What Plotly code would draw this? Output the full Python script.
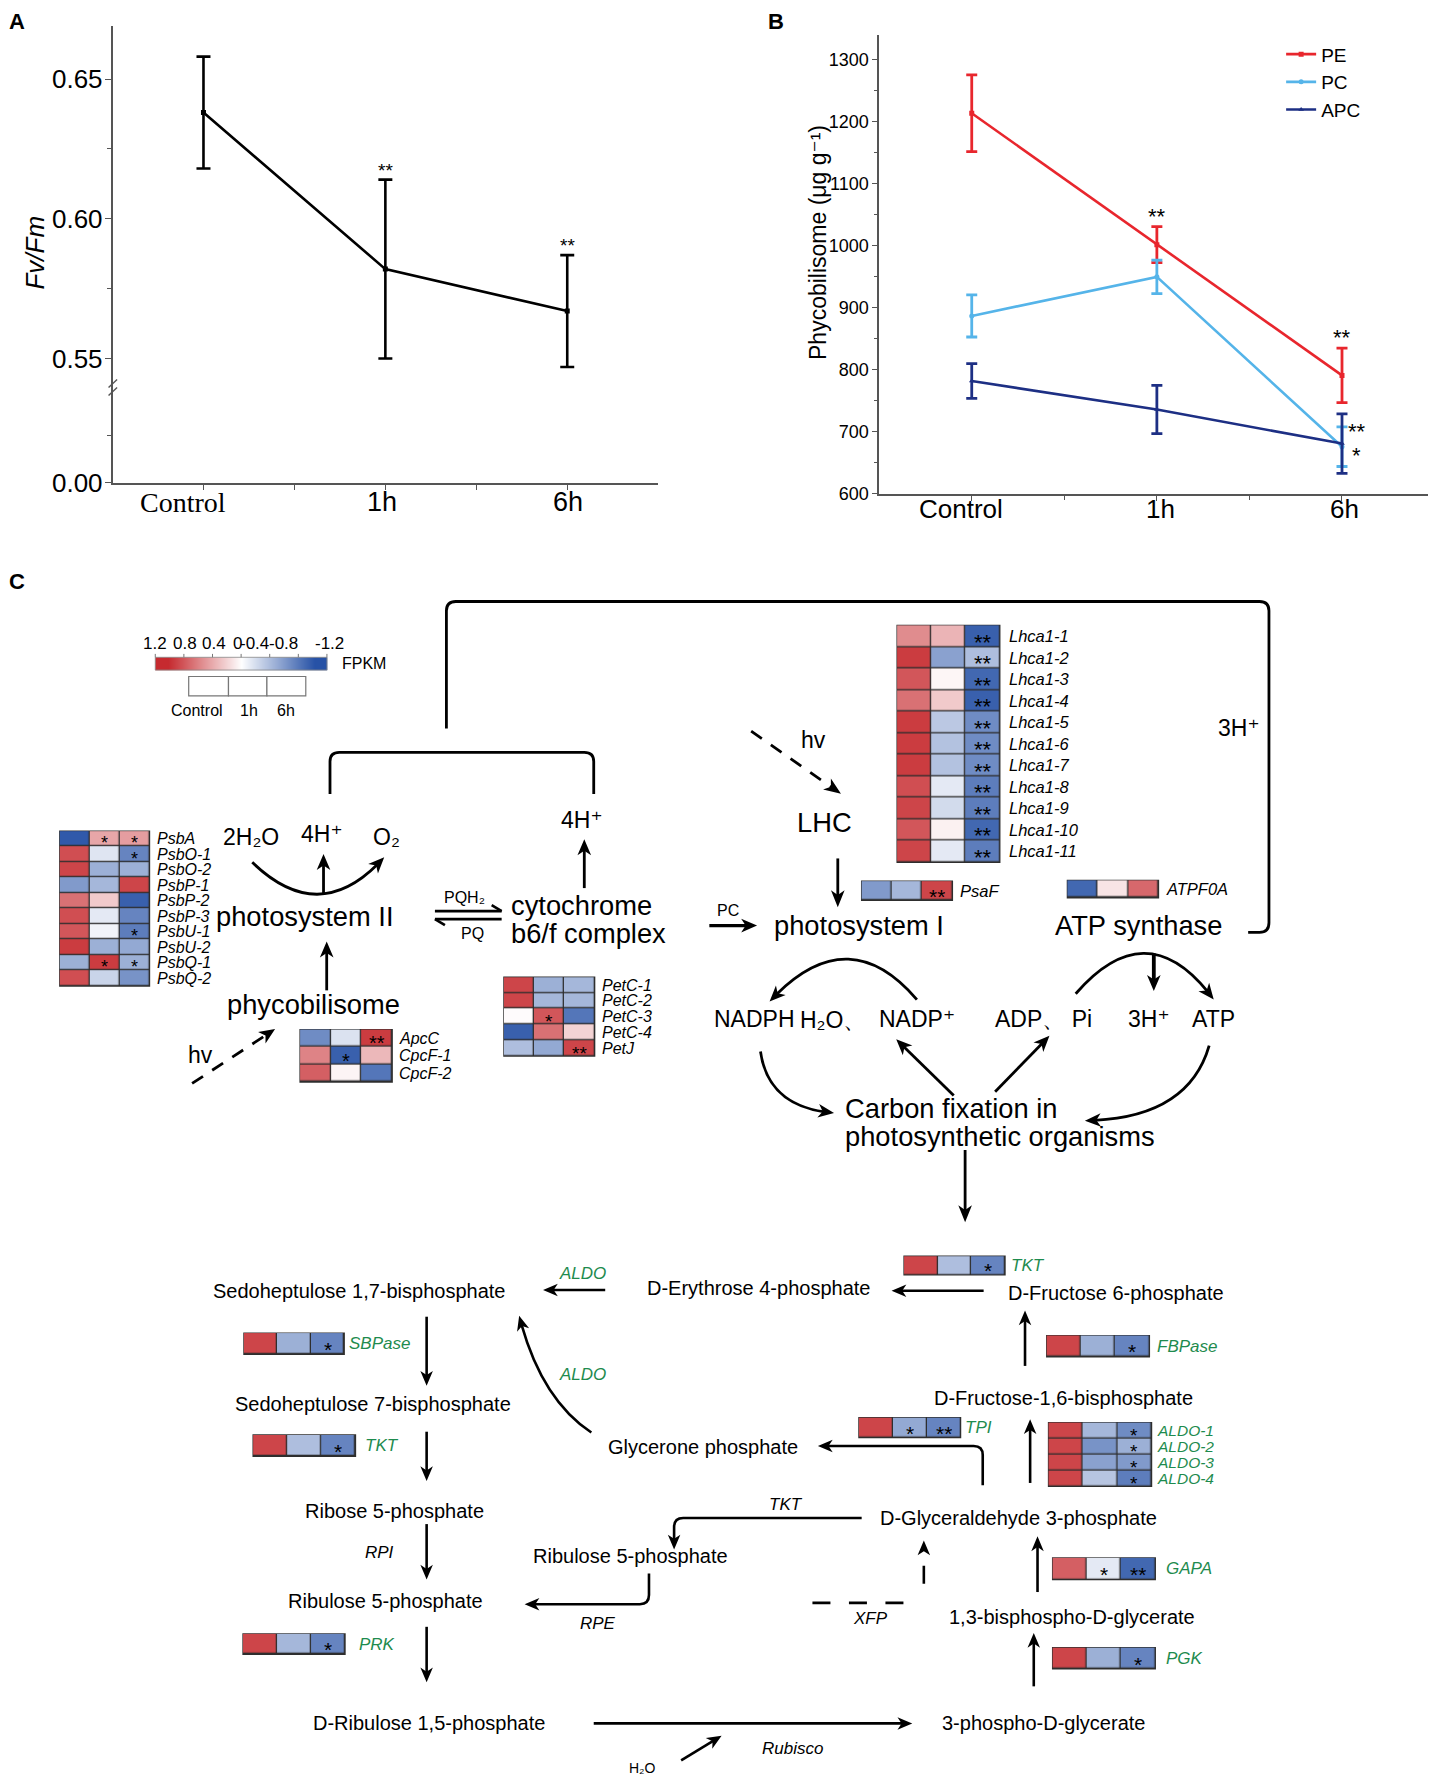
import math
import plotly.graph_objects as go

# ====================== DATA ======================
time_points = ["Control", "1h", "6h"]

# Panel A: Fv/Fm
fvfm_mean = [0.638, 0.582, 0.567]
fvfm_err = [0.020, 0.032, 0.020]
fvfm_sig = ["", "**", "**"]

# Panel B: phycobilisome content (ug g-1)
pbs_names = ["PE", "PC", "APC"]
pe_mean = [1214, 1002, 791]
pe_err = [62, 29, 44]
pc_mean = [887, 950, 676]
pc_err = [34, 27, 32]
apc_mean = [782, 736, 681]
apc_err = [28, 39, 48]
pe_sig = ["", "**", "**"]
pc_sig = ["", "", "**"]
apc_sig = ["", "", "*"]

# Panel C: FPKM colour key
fpkm_ticks = [1.2, 0.8, 0.4, 0, -0.4, -0.8, -1.2]
fpkm_ticktext = ["1.2", "0.8", "0.4", "0", "-0.4", "-0.8", "-1.2"]

# Panel C heatmaps (scaled FPKM, columns = Control, 1h, 6h)
psii_genes = ["PsbA", "PsbO-1", "PsbO-2", "PsbP-1", "PsbP-2", "PsbP-3", "PsbU-1", "PsbU-2", "PsbQ-1", "PsbQ-2"]
psii_z = [[-1.15, 0.50, 0.55], [1.00, -0.18, -0.85], [1.05, -0.55, -0.55], [-0.70, -0.50, 1.05],
          [0.80, 0.30, -1.10], [1.00, -0.15, -0.85], [0.95, -0.08, -0.90], [1.10, -0.55, -0.60],
          [-0.55, 1.10, -0.55], [1.00, -0.30, -0.75]]
psii_sig = [["", "*", "*"], ["", "", "*"], ["", "", ""], ["", "", ""], ["", "", ""],
            ["", "", ""], ["", "", "*"], ["", "", ""], ["", "*", "*"], ["", "", ""]]

pbs_genes = ["ApcC", "CpcF-1", "CpcF-2"]
pbs_z = [[-0.80, -0.20, 1.10], [0.70, -1.10, 0.40], [0.90, 0.06, -0.95]]
pbs_sig = [["", "", "**"], ["", "*", ""], ["", "", ""]]

cyt_genes = ["PetC-1", "PetC-2", "PetC-3", "PetC-4", "PetJ"]
cyt_z = [[1.05, -0.55, -0.50], [1.05, -0.50, -0.50], [0.02, 0.95, -0.95], [-1.10, 0.80, 0.25], [-0.45, -0.60, 1.05]]
cyt_sig = [["", "", ""], ["", "", ""], ["", "*", ""], ["", "", ""], ["", "", "**"]]

lhca_genes = ["Lhca1-1", "Lhca1-2", "Lhca1-3", "Lhca1-4", "Lhca1-5", "Lhca1-6", "Lhca1-7",
              "Lhca1-8", "Lhca1-9", "Lhca1-10", "Lhca1-11"]
lhca_z = [[0.65, 0.42, -1.10], [1.10, -0.65, -0.45], [0.95, 0.05, -1.05], [0.80, 0.30, -1.10],
          [1.10, -0.38, -0.80], [1.10, -0.42, -0.80], [1.10, -0.42, -0.80], [1.00, -0.15, -0.90],
          [1.05, -0.25, -0.90], [0.95, 0.08, -1.05], [1.05, -0.15, -0.90]]
lhca_sig = [["", "", "**"] for _ in lhca_genes]

psaf_genes = ["PsaF"]
psaf_z = [[-0.70, -0.50, 1.05]]
psaf_sig = [["", "", "**"]]

atp_genes = ["ATPF0A"]
atp_z = [[-1.05, 0.15, 0.85]]
atp_sig = [["", "", ""]]

tkt1_genes = ["TKT"]
tkt1_z = [[1.05, -0.45, -0.85]]
tkt1_sig = [["", "", "*"]]

fbp_genes = ["FBPase"]
fbp_z = [[1.05, -0.55, -0.85]]
fbp_sig = [["", "", "*"]]

tpi_genes = ["TPI"]
tpi_z = [[1.05, -0.60, -0.85]]
tpi_sig = [["", "*", "**"]]

aldo_genes = ["ALDO-1", "ALDO-2", "ALDO-3", "ALDO-4"]
aldo_z = [[1.05, -0.50, -0.80], [1.05, -0.75, -0.55], [1.05, -0.65, -0.70], [1.05, -0.40, -0.90]]
aldo_sig = [["", "", "*"] for _ in aldo_genes]

gapa_genes = ["GAPA"]
gapa_z = [[0.90, -0.15, -1.05]]
gapa_sig = [["", "*", "**"]]

pgk_genes = ["PGK"]
pgk_z = [[1.05, -0.55, -0.85]]
pgk_sig = [["", "", "*"]]

sbp_genes = ["SBPase"]
sbp_z = [[1.05, -0.55, -0.85]]
sbp_sig = [["", "", "*"]]

tkt2_genes = ["TKT"]
tkt2_z = [[1.05, -0.45, -0.85]]
tkt2_sig = [["", "", "*"]]

prk_genes = ["PRK"]
prk_z = [[1.05, -0.50, -0.85]]
prk_sig = [["", "", "*"]]

# ====================== STYLE / LAYOUT ======================
OFF = 8                        # page body margin of the browser page
YS = 1.0076                    # vertical compensation of the captured page
SX, SY = 1265.0, 1566.0        # diagram coordinate frame (reference units)
KX, KY = 1438 / SX, 1781 / SY * YS
FW, FH = 1438 - 2 * OFF, 1786
SANS = "Liberation Sans, Arial, DejaVu Sans, sans-serif"
NARROW = "Liberation Sans Narrow, Arial Narrow, Liberation Sans, sans-serif"
SERIF = "Liberation Serif, Times New Roman, serif"
GREEN = "#1E8B4E"
AX = "#555555"
RED, BLUE = "#C62A2F", "#2752A6"


def px(X):
    return (X * KX - OFF) / FW


def py(Y):
    return 1 - (Y * KY - OFF) / FH


shapes, annotations = [], []
DX, DY = "x3", "y4"

fig = go.Figure()


def txt(x, y, s, size=20, color="black", xanchor="center", family=SANS, angle=0, height=None):
    a = dict(xref=DX, yref=DY, x=x, y=y, text=s, showarrow=False,
             xanchor=xanchor, yanchor="middle", textangle=angle,
             font=dict(size=size, color=color, family=family))
    if height:
        a.update(height=height, borderpad=0, borderwidth=0, valign="middle")
    annotations.append(a)


def seg(p0, p1, w=2.6, dash=None, color="black"):
    shapes.append(dict(type="line", xref=DX, yref=DY, x0=p0[0], y0=p0[1], x1=p1[0], y1=p1[1],
                       line=dict(color=color, width=w, dash=dash)))


def pth(d, w=2.6, dash=None):
    shapes.append(dict(type="path", xref=DX, yref=DY, path=d,
                       line=dict(color="black", width=w, dash=dash)))


def _unit(a, b):
    dx, dy = b[0] - a[0], b[1] - a[1]
    n = math.hypot(dx, dy)
    return dx / n, dy / n


def head(tip, frm, L=13, Wd=11):
    ux, uy = _unit(frm, tip)
    bx, by = tip[0] - ux * L, tip[1] - uy * L
    nx, ny = -uy, ux
    p1 = (bx + nx * Wd / 2, by + ny * Wd / 2)
    p3 = (bx - nx * Wd / 2, by - ny * Wd / 2)
    p2 = (tip[0] - ux * L * 0.72, tip[1] - uy * L * 0.72)
    d = "M%.2f,%.2f L%.2f,%.2f L%.2f,%.2f L%.2f,%.2f Z" % (tip[0], tip[1], p1[0], p1[1], p2[0], p2[1], p3[0], p3[1])
    shapes.append(dict(type="path", xref=DX, yref=DY, path=d, fillcolor="black",
                       line=dict(width=0)))


def arrow(p0, p1, w=2.6, L=13, Wd=11, dash=None):
    ux, uy = _unit(p0, p1)
    e = (p1[0] - ux * L * 0.6, p1[1] - uy * L * 0.6)
    seg(p0, e, w, dash)
    head(p1, p0, L, Wd)


def qcurve(p0, c, p2, w=2.6, L=13, Wd=11):
    def B(t):
        return ((1 - t) ** 2 * p0[0] + 2 * (1 - t) * t * c[0] + t * t * p2[0],
                (1 - t) ** 2 * p0[1] + 2 * (1 - t) * t * c[1] + t * t * p2[1])

    def back(dist):
        t = 1.0
        while t > 0:
            q = B(t)
            if math.hypot(q[0] - p2[0], q[1] - p2[1]) >= dist:
                return t
            t -= 0.002
        return 0.0

    t0 = back(L * 0.6)
    frm = B(back(L))
    c1 = (p0[0] + (c[0] - p0[0]) * t0, p0[1] + (c[1] - p0[1]) * t0)
    e = B(t0)
    pth("M%.2f,%.2f Q%.2f,%.2f %.2f,%.2f" % (p0[0], p0[1], c1[0], c1[1], e[0], e[1]), w)
    head(p2, frm, L, Wd)


# ---------------- Panel A ----------------
xa = list(range(len(time_points)))
fig.add_trace(go.Scatter(x=xa, y=fvfm_mean, mode="lines+markers",
                         line=dict(color="black", width=2.6),
                         marker=dict(symbol="square", size=5, color="black"),
                         error_y=dict(type="data", array=fvfm_err, color="black", thickness=2.6, width=7),
                         xaxis="x", yaxis="y", showlegend=False, hoverinfo="skip"))
fig.add_trace(go.Scatter(x=[0], y=[None], mode="lines", xaxis="x", yaxis="y2",
                         showlegend=False, hoverinfo="skip"))
for i, s in enumerate(fvfm_sig):
    if s:
        annotations.append(dict(xref="x", yref="y", x=xa[i], y=fvfm_mean[i] + fvfm_err[i], text=s,
                                showarrow=False, yanchor="bottom", yshift=-3,
                                font=dict(size=19, color="black", family=SANS)))
# x tick labels A
a_lab_x = [161, 336, 500]
for i, t in enumerate(time_points):
    fam = SERIF if t == "Control" else SANS
    annotations.append(dict(xref="paper", yref="paper", x=px(a_lab_x[i]), y=py(442), text=t,
                            showarrow=False, xanchor="center", yanchor="middle",
                            font=dict(size=28 if t == "Control" else 27, color="black", family=fam)))
annotations.append(dict(xref="paper", yref="paper", x=px(31), y=py(222), text="<i>Fv/Fm</i>",
                        showarrow=False, textangle=-90, xanchor="center", yanchor="middle",
                        font=dict(size=26, color="black", family=SANS)))
# axis break marks
for yy in (337.5, 344.5):
    seg((95.5, yy + 3.5), (103, yy - 3.5), w=1.4, color=AX)

# ---------------- Panel B ----------------
b_series = [(pbs_names[0], pe_mean, pe_err, "#E8262D", "square"),
            (pbs_names[1], pc_mean, pc_err, "#55B4E9", "circle"),
            (pbs_names[2], apc_mean, apc_err, "#1D2F84", "triangle-up")]
for name, m, e, col, sym in b_series:
    fig.add_trace(go.Scatter(x=xa, y=m, mode="lines+markers", name=name,
                             line=dict(color=col, width=2.6),
                             marker=dict(symbol=sym, size=5, color=col),
                             error_y=dict(type="data", array=e, color=col, thickness=2.8, width=5.5),
                             xaxis="x2", yaxis="y3", showlegend=True, hoverinfo="skip"))
for i, s in enumerate(pe_sig):
    if s:
        annotations.append(dict(xref="x2", yref="y3", x=xa[i], y=pe_mean[i] + pe_err[i], text=s,
                                showarrow=False, yanchor="bottom", yshift=-4,
                                font=dict(size=22, color="black", family=SANS)))
for i, s in enumerate(pc_sig):
    if s:
        annotations.append(dict(xref="x2", yref="y3", x=xa[i], y=pc_mean[i] + pc_err[i], text=s,
                                showarrow=False, xanchor="left", yanchor="middle", xshift=4, yshift=-5,
                                font=dict(size=22, color="black", family=SANS)))
for i, s in enumerate(apc_sig):
    if s:
        annotations.append(dict(xref="x2", yref="y3", x=xa[i], y=apc_mean[i], text=s,
                                showarrow=False, xanchor="left", yanchor="middle", xshift=8, yshift=-12,
                                font=dict(size=22, color="black", family=SANS)))
b_lab_x = [845, 1021, 1183]
for i, t in enumerate(time_points):
    annotations.append(dict(xref="paper", yref="paper", x=px(b_lab_x[i]), y=py(448), text=t,
                            showarrow=False, xanchor="center", yanchor="middle",
                            font=dict(size=26, color="black", family=SANS)))
annotations.append(dict(xref="paper", yref="paper", x=px(719.5), y=py(213),
                        text="Phycobilisome (μg g⁻¹)", showarrow=False, textangle=-90,
                        xanchor="center", yanchor="middle", font=dict(size=23, color="black", family=SANS)))

# panel letters
for L_, X_, Y_, xa_, ya_ in (("A", 0.0, 1.0, "left", "top"), ("B", px(675), 1.0, "left", "top"),
                             ("C", 0.0, py(512), "left", "middle")):
    annotations.append(dict(xref="paper", yref="paper", x=X_, y=Y_, text="<b>%s</b>" % L_,
                            showarrow=False, xanchor=xa_, yanchor=ya_, borderpad=0,
                            font=dict(size=22, color="black", family=SANS)))

# ---------------- Panel C : colour key ----------------
cb_left, cb_right, cb_top, cb_bot = 136.6, 287.6, 578.4, 589.6
ncb = len(fpkm_ticks)
cdx = (cb_right - cb_left) / ncb
fig.add_trace(go.Heatmap(z=[fpkm_ticks], x0=cb_left + cdx / 2, dx=cdx, y0=(cb_top + cb_bot) / 2,
                         dy=cb_bot - cb_top, zsmooth="best", coloraxis="coloraxis",
                         xaxis=DX, yaxis=DY, hoverinfo="skip"))
shapes.append(dict(type="rect", xref=DX, yref=DY, x0=cb_left, x1=cb_right, y0=cb_top, y1=cb_bot,
                   line=dict(color="#888888", width=0.8)))
cb_lab_x = [136.5, 162.4, 188.5, 208.7, 223.7, 249.5, 289.7]
for i, t in enumerate(fpkm_ticktext):
    tx = cb_left + (cb_right - cb_left) * i / (ncb - 1)
    seg((tx, cb_top - 3), (tx, cb_top), w=1, color="#777777")
    txt(cb_lab_x[i], 566, t, size=17, family=NARROW)
txt(298.8, 583.5, "FPKM", size=16, xanchor="left")
# sample key boxes
key_x = [166, 201, 234.8, 269]
for i in range(3):
    shapes.append(dict(type="rect", xref=DX, yref=DY, x0=key_x[i], x1=key_x[i + 1], y0=595.3, y1=612.3,
                       line=dict(color="#777777", width=1.2), fillcolor="white"))
for t, xx in zip(time_points, (173, 218.6, 251.8)):
    txt(xx, 625, t, size=16)

# ---------------- Panel C : heatmaps ----------------
hm_groups = [
    (psii_genes, psii_z, psii_sig, dict(left=52.6, top=731.4, cw=26.3, ch=13.63, lx=136.5, fs=16, col="black", ss=18)),
    (pbs_genes, pbs_z, pbs_sig, dict(left=264, top=906, cw=27.0, ch=15.4, lx=349, fs=16, col="black", ss=20)),
    (cyt_genes, cyt_z, cyt_sig, dict(left=443.3, top=860, cw=26.6, ch=13.86, lx=527.5, fs=16, col="black", ss=19)),
    (lhca_genes, lhca_z, lhca_sig, dict(left=789.2, top=550.3, cw=30.1, ch=18.95, lx=886, fs=16.5, col="black", ss=22)),
    (psaf_genes, psaf_z, psaf_sig, dict(left=758, top=775.4, cw=26.6, ch=16.9, lx=843, fs=16.5, col="black", ss=21)),
    (atp_genes, atp_z, atp_sig, dict(left=939, top=774.7, cw=26.7, ch=15.3, lx=1024, fs=16.5, col="black", ss=21)),
    (tkt1_genes, tkt1_z, tkt1_sig, dict(left=795.3, top=1105.5, cw=29.6, ch=16.3, lx=888, fs=17, col=GREEN, ss=21)),
    (fbp_genes, fbp_z, fbp_sig, dict(left=920.8, top=1175.3, cw=30.1, ch=18.8, lx=1016, fs=17, col=GREEN, ss=21)),
    (tpi_genes, tpi_z, tpi_sig, dict(left=755.6, top=1247.6, cw=29.8, ch=17.4, lx=847, fs=17, col=GREEN, ss=21)),
    (aldo_genes, aldo_z, aldo_sig, dict(left=922.4, top=1251.9, cw=30.2, ch=14.0, lx=1018, fs=15.5, col=GREEN, ss=19)),
    (gapa_genes, gapa_z, gapa_sig, dict(left=926, top=1370.9, cw=30.1, ch=19.1, lx=1024, fs=17, col=GREEN, ss=21)),
    (pgk_genes, pgk_z, pgk_sig, dict(left=926, top=1450, cw=30.1, ch=18.5, lx=1024, fs=17, col=GREEN, ss=21)),
    (sbp_genes, sbp_z, sbp_sig, dict(left=214.6, top=1173.1, cw=29.4, ch=18.8, lx=305.5, fs=17, col=GREEN, ss=21)),
    (tkt2_genes, tkt2_z, tkt2_sig, dict(left=222.7, top=1262.8, cw=30.0, ch=18.8, lx=319, fs=17, col=GREEN, ss=21)),
    (prk_genes, prk_z, prk_sig, dict(left=213.8, top=1437.8, cw=29.9, ch=18.0, lx=314, fs=17, col=GREEN, ss=21)),
]
for genes, z, sig, g in hm_groups:
    n = len(genes)
    row_px = g["ch"] * KY
    shapes.append(dict(type="rect", xref=DX, yref=DY, layer="below",
                       x0=g["left"] - 0.6, x1=g["left"] + 3 * g["cw"] + 0.6,
                       y0=g["top"] - 0.6, y1=g["top"] + n * g["ch"] + 0.6,
                       fillcolor="#2E2E2E", line=dict(width=0)))
    fig.add_trace(go.Heatmap(z=z, x0=g["left"] + g["cw"] / 2, dx=g["cw"],
                             y0=g["top"] + g["ch"] / 2, dy=g["ch"], xgap=1.3, ygap=1.3,
                             coloraxis="coloraxis", xaxis=DX, yaxis=DY, hoverinfo="skip"))
    tight = n > 1 and row_px < 1.25 * g["fs"]
    for i, gname in enumerate(genes):
        cy = g["top"] + (i + 0.5) * g["ch"]
        txt(g["lx"], cy, "<i>%s</i>" % gname, size=g["fs"], color=g["col"], xanchor="left",
            height=(row_px - 0.8) if (tight and g["col"] == GREEN) else None)
        for j, s in enumerate(sig[i]):
            if s:
                annotations.append(dict(xref=DX, yref=DY, x=g["left"] + (j + 0.5) * g["cw"], y=cy,
                                        text=s, showarrow=False, xanchor="center", yanchor="middle",
                                        valign="middle", height=min(row_px - 1.0, 1.1 * g["ss"]),
                                        borderpad=0, borderwidth=0,
                                        yshift=-0.27 * g["ss"], font=dict(size=g["ss"], color="black", family=SANS)))

# ---------------- Panel C : pathway drawing ----------------
BIG, MID, MET, ENZ = 27.3, 23, 20, 17
# brackets
pth("M392.7,641 V537.5 Q392.7,529.3 401,529.3 H1108 Q1116.3,529.3 1116.3,537.5 V812 Q1116.3,820.4 1108,820.4 H1098", w=2.8)
pth("M290.3,698.6 V670 Q290.3,662 298.5,662 H514 Q522.3,662 522.3,670 V698.6", w=2.8)
# photosystem II
txt(220.6, 736.5, "2H₂O", MID)
txt(283.4, 734, "4H⁺", MID)
txt(340, 736.5, "O₂", MID)
qcurve((221.9, 758.8), (282, 817), (338, 754.4), w=2.8, L=14, Wd=12)
arrow((284.6, 787.5), (284.6, 751.5), w=2.8, L=14, Wd=12)
txt(268.5, 806.5, "photosystem II", BIG)
arrow((287.4, 871.5), (287.4, 828.5), w=2.8, L=14, Wd=12)
txt(275.5, 884, "phycobilisome", BIG)
txt(176, 928.5, "hv", MID)
arrow((169, 953.4), (242, 905.6), w=2.8, L=14, Wd=12, dash="13px,11px")
# PQ shuttle
seg((382.6, 801.8), (441.3, 801.8), w=2.6)
seg((441.3, 801.8), (432.5, 796.5), w=2.6)
seg((382.6, 808.8), (441.3, 808.8), w=2.6)
seg((382.6, 808.8), (391.4, 814.1), w=2.6)
txt(409, 790, "PQH₂", 16)
txt(416, 821.5, "PQ", 16)
# cytochrome
txt(448, 797, "cytochrome", BIG, xanchor="left")
txt(448, 821.5, "b6/f complex", BIG, xanchor="left")
arrow((514, 781.5), (514, 738.5), w=2.8, L=14, Wd=12)
txt(512, 721.5, "4H⁺", MID)
# photosystem I
txt(640.6, 801.5, "PC", 16)
arrow((624, 814.5), (666, 814.5), w=3.2, L=14, Wd=12)
txt(756, 814.5, "photosystem I", BIG)
txt(715.5, 651, "hv", MID)
arrow((660.8, 643.4), (739.8, 698.5), w=2.8, L=15, Wd=12, dash="13px,11px")
txt(725.6, 723.5, "LHC", BIG)
arrow((737, 755.4), (737, 798.4), w=2.8, L=15, Wd=12)
# ATP synthase
txt(1001.5, 814.5, "ATP synthase", BIG)
txt(1090, 641, "3H⁺", MID)
# cofactors
txt(663.5, 897, "NADPH", MID)
txt(733, 897.5, "H₂O、", MID)
txt(807, 897, "NADP⁺", MID)
txt(918, 897, "ADP、 Pi", MID)
txt(1011, 897, "3H⁺", MID)
txt(1067.5, 897, "ATP", MID)
qcurve((806.6, 879.6), (745, 807.5), (677, 881.3), w=2.8, L=14, Wd=12)
qcurve((946.3, 874.5), (1010, 801), (1067.7, 879.6), w=2.8, L=14, Wd=12)
arrow((1015, 839), (1015, 872), w=3.8, L=14, Wd=12)
qcurve((669, 925.3), (676, 975), (733.7, 979.4), w=2.8, L=14, Wd=12)
arrow((839, 964), (788.4, 914.5), w=2.8, L=14, Wd=12)
arrow((875.4, 960.8), (923.2, 911.5), w=2.8, L=14, Wd=12)
qcurve((1063.7, 920.2), (1045, 985), (954.4, 986.2), w=2.8, L=14, Wd=12)
txt(742, 975.5, "Carbon fixation in", BIG, xanchor="left")
txt(742, 1000, "photosynthetic organisms", BIG, xanchor="left")
arrow((849, 1012), (849, 1075.5), w=2.8, L=15, Wd=12)

# Calvin cycle
mets = [("Sedoheptulose 1,7-bisphosphate", 316, 1136), ("D-Erythrose 4-phosphate", 667, 1133),
        ("D-Fructose 6-phosphate", 982, 1137.5), ("Sedoheptulose 7-bisphosphate", 328, 1235.5),
        ("D-Fructose-1,6-bisphosphate", 935.5, 1230.5), ("Glycerone phosphate", 618.5, 1273.5),
        ("Ribose 5-phosphate", 347.4, 1329.5), ("D-Glyceraldehyde 3-phosphate", 896, 1336),
        ("Ribulose 5-phosphate", 554.5, 1369.5), ("Ribulose 5-phosphate", 339.3, 1408.5),
        ("1,3-bisphospho-D-glycerate", 943.4, 1423), ("D-Ribulose 1,5-phosphate", 377.7, 1516.5),
        ("3-phospho-D-glycerate", 917.9, 1516.5)]
for t, xx, yy in mets:
    txt(xx, yy, t, MET)
enz = [("ALDO", 512, 1120.5, GREEN), ("ALDO", 512, 1209.3, GREEN), ("RPI", 334, 1365.8, "black"),
       ("RPE", 526.3, 1429, "black"), ("TKT", 691.2, 1323.9, "black"), ("XFP", 766.1, 1424.4, "black"),
       ("Rubisco", 697.3, 1538.3, "black")]
for t, xx, yy, col in enz:
    txt(xx, yy, "<i>%s</i>" % t, ENZ, color=col)
txt(564.8, 1555.5, "H₂O", 14)

arrow((865.3, 1135.9), (784.3, 1135.9))
arrow((532.4, 1135.2), (477.7, 1135.2))
arrow((375.3, 1158.7), (375.3, 1219.4))
arrow((375.3, 1259.9), (375.3, 1303.3))
arrow((375.3, 1341.2), (375.3, 1390))
arrow((375.3, 1431.6), (375.3, 1480.4))
qcurve((520.2, 1260.6), (475.2, 1230.8), (456.7, 1157.9))
arrow((901.7, 1202), (901.7, 1153.2))
arrow((906.2, 1305), (906.2, 1249))
pth("M864.5,1307 V1280.5 Q864.5,1272.5 856.5,1272.5 H727")
head((719.5, 1272.5), (740, 1272.5))
pth("M758,1335.8 H601 Q593,1335.8 593,1343.8 V1356")
head((593, 1363.5), (593, 1340))
pth("M570.9,1384.6 V1403.7 Q570.9,1411.7 562.9,1411.7 H469")
head((461.5, 1411.7), (480, 1411.7))
seg((714.7, 1410.5), (806.6, 1410.5), dash="18px,18.5px")
seg((812.7, 1393.7), (812.7, 1372), dash="18px,10px")
head((812.7, 1355.7), (812.7, 1380))
arrow((912.7, 1401), (912.7, 1352))
arrow((909.4, 1484), (909.4, 1437))
arrow((522.3, 1516.6), (802.5, 1516.6))
arrow((599.2, 1549.1), (634.8, 1527.4))

# ====================== LAYOUT ======================
tick_font_a = dict(size=26, color="black", family=NARROW)
fig.update_layout(
    width=FW, height=FH, margin=dict(l=0, r=0, t=0, b=0),
    paper_bgcolor="white", plot_bgcolor="rgba(0,0,0,0)",
    showlegend=True,
    legend=dict(x=px(1127), y=py(31), xanchor="left", yanchor="top", bgcolor="rgba(0,0,0,0)",
                font=dict(size=19, color="black", family=SANS), tracegroupgap=0, itemwidth=30),
    coloraxis=dict(colorscale=[[0, BLUE], [0.5, "#FFFFFF"], [1, RED]], cmin=-1.2, cmax=1.2, showscale=False),
    xaxis=dict(domain=[px(99), px(579)], range=[-0.5, 2.5], anchor="y2", showline=True, linecolor=AX,
               linewidth=1.5, ticks="outside", tickvals=xa, ticklen=5, tickcolor=AX, showticklabels=False,
               minor=dict(tickvals=[0.5, 1.5], ticks="outside", ticklen=5, tickcolor=AX),
               showgrid=False, zeroline=False, fixedrange=True),
    yaxis=dict(domain=[py(341), py(23)], range=[0.53963, 0.6689], anchor="x", showline=True, linecolor=AX,
               linewidth=1.5, ticks="outside", tickvals=[0.55, 0.60, 0.65], ticktext=["0.55", "0.60", "0.65"],
               ticklen=6, tickcolor=AX, tickfont=tick_font_a, ticklabelstandoff=-3,
               minor=dict(tickvals=[0.575, 0.625], ticks="outside", ticklen=4, tickcolor=AX),
               showgrid=False, zeroline=False, fixedrange=True),
    yaxis2=dict(domain=[py(425), py(341)], range=[0, 0.05], anchor="x", showline=True, linecolor=AX,
                linewidth=1.5, ticks="outside", tickvals=[0], ticktext=["0.00"], ticklen=6, tickcolor=AX,
                tickfont=tick_font_a, ticklabelstandoff=-3,
                minor=dict(tickvals=[0.025], ticks="outside", ticklen=4, tickcolor=AX),
                showgrid=False, zeroline=False, fixedrange=True),
    xaxis2=dict(domain=[px(773.4), px(1256)], range=[-0.5, 2.5 - (1262 - 1256) / 163.5], anchor="y3",
                showline=True, linecolor=AX,
                linewidth=1.5, ticks="outside", tickvals=xa, ticklen=5, tickcolor=AX, showticklabels=False,
                minor=dict(tickvals=[0.5, 1.5], ticks="outside", ticklen=4, tickcolor=AX),
                showgrid=False, zeroline=False, fixedrange=True),
    yaxis3=dict(domain=[py(434.5), py(30.5)], range=[600, 1340.7], anchor="x2", showline=True, linecolor=AX,
                linewidth=1.5, ticks="outside", tickvals=list(range(600, 1301, 100)), ticklen=5, tickcolor=AX,
                tickfont=dict(size=18, color="black", family=NARROW),
                minor=dict(tickvals=list(range(650, 1301, 100)), ticks="outside", ticklen=3, tickcolor=AX),
                showgrid=False, zeroline=False, fixedrange=True),
    xaxis3=dict(domain=[0, 1], range=[OFF / KX, (OFF + FW) / KX], anchor="y4", visible=False, fixedrange=True),
    yaxis4=dict(domain=[0, 1], range=[(OFF + FH) / KY, OFF / KY], anchor="x3", visible=False, fixedrange=True),
    shapes=shapes, annotations=annotations,
)

fig.write_html("out.html")
